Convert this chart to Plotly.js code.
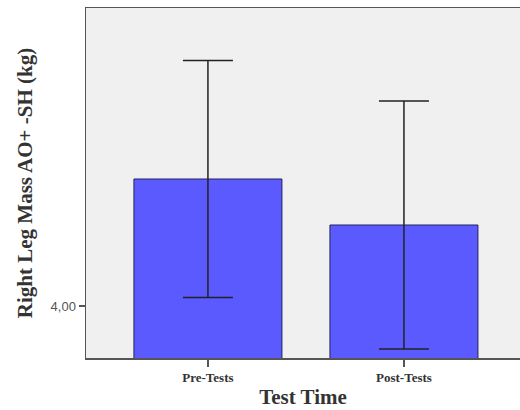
<!DOCTYPE html>
<html>
<head>
<meta charset="utf-8">
<script src="https://cdn.plot.ly/plotly-3.0.1.min.js"></script>
<style>html,body{margin:0;padding:0;background:#fff;overflow:hidden;}</style>
</head>
<body>
<div id="chart" style="width:520px;height:410px;"></div>
<script>
const categories = ["Pre-Tests", "Post-Tests"];
const means = [4.254, 4.162];
const errors = [0.237, 0.248];
const yTickVals = [4.0];
const yTickText = ["4,00"];

const trace = {
  type: "bar",
  x: categories,
  y: means,
  width: 0.755,
  marker: { color: "#5a5aff", line: { color: "#22225a", width: 1 } },
  error_y: { type: "data", array: errors, visible: true, color: "#222", thickness: 1.5, width: 25 },
  hoverinfo: "none"
};

const layout = {
  width: 520, height: 410,
  margin: { l: 86, r: 0, t: 8, b: 52 },
  paper_bgcolor: "#ffffff",
  plot_bgcolor: "#f0f0f0",
  showlegend: false,
  bargap: 0,
  xaxis: {
    type: "category",
    range: [-0.622, 1.592],
    showline: true, mirror: true, linecolor: "#555", linewidth: 1.5,
    ticks: "outside", ticklen: 7, tickcolor: "#555", tickwidth: 1.5,
    showgrid: false, zeroline: false,
    tickfont: { family: "Liberation Serif", size: 13, color: "#333", weight: "bold" },
    title: { text: "<b>Test Time</b>", font: { family: "Liberation Serif", size: 21, color: "#333" }, standoff: 5 }
  },
  yaxis: {
    range: [3.896, 4.596],
    tickvals: yTickVals, ticktext: yTickText,
    showline: true, linecolor: "#555", linewidth: 1.5,
    ticks: "outside", ticklen: 6, tickcolor: "#555", tickwidth: 1.5,
    showgrid: false, zeroline: false,
    tickfont: { family: "Liberation Sans", size: 13, color: "#555" },
    title: { text: "<b>Right Leg Mass AO+ -SH (kg)</b>", font: { family: "Liberation Serif", size: 21, color: "#333" }, standoff: 12 }
  }
};

Plotly.newPlot("chart", [trace], layout, { displayModeBar: false, staticPlot: true });
</script>
</body>
</html>
